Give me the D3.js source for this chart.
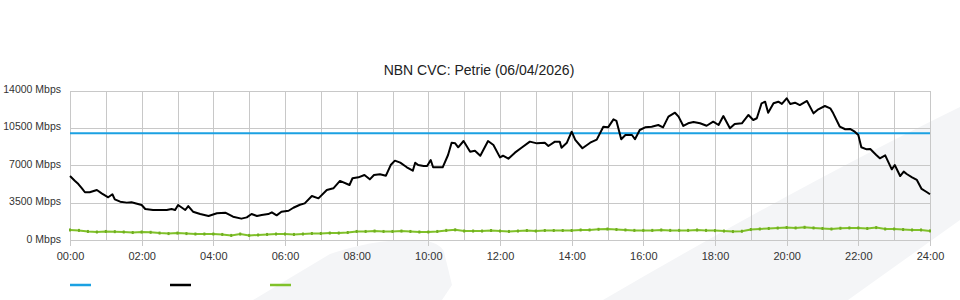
<!DOCTYPE html>
<html>
<head>
<meta charset="utf-8">
<script src="https://cdn.jsdelivr.net/npm/d3@7"></script>
<style>
  body { margin: 0; background: #fff; }
  svg { display: block; font-family: "Liberation Sans", Arial, sans-serif; }
  .grid line { stroke: #c8c8c8; stroke-width: 1; shape-rendering: crispEdges; }
  .grid .domain { display: none; }
  .axis text { fill: #333; font-size: 11px; }
</style>
</head>
<body>
<svg width="960" height="300"></svg>
<script>
var title = "NBN CVC: Petrie (06/04/2026)";

// y axis ticks (Mbps) and x axis labels (every 2 hours)
var yTicks = [0, 3500, 7000, 10500, 14000];
var xLabels = ["00:00", "02:00", "04:00", "06:00", "08:00", "10:00", "12:00",
               "14:00", "16:00", "18:00", "20:00", "22:00", "24:00"];

// CVC capacity (blue)
var capTimes = [0, 1440];
var capValues = [10000, 10000];

// traffic (black), minutes past midnight
var usageTimes = [0, 8, 14, 20, 25, 33, 45, 53, 64, 71, 75, 84, 95, 103, 120, 126, 139, 151, 162, 170,
  176, 181, 193, 198, 206, 218, 232, 246, 260, 273, 287, 296, 304, 313, 321, 332, 338, 346, 354, 366,
  374, 385, 393, 405, 416, 430, 441, 452, 468, 473, 483, 493, 502, 509, 519, 529, 537, 544, 553, 564,
  574, 578, 583, 592, 598, 604, 608, 624, 633, 639, 645, 650, 659, 670, 678, 687, 700, 709, 720, 725,
  734, 745, 756, 770, 782, 795, 801, 812, 820, 823, 832, 840, 846, 858, 871, 882, 893, 901, 910, 915,
  923, 930, 941, 946, 954, 963, 974, 985, 993, 1002, 1013, 1019, 1027, 1035, 1044, 1055, 1066, 1077, 1086, 1094,
  1105, 1113, 1125, 1136, 1144, 1150, 1158, 1164, 1169, 1178, 1186, 1192, 1200, 1206, 1214, 1222, 1234, 1245, 1253, 1264,
  1273, 1278, 1289, 1298, 1306, 1314, 1320, 1325, 1334, 1340, 1350, 1356, 1365, 1376, 1381, 1390, 1396, 1401, 1410, 1418,
  1426, 1435, 1440];
var usageValues = [5990, 5550, 5240, 4840, 4470, 4470, 4680, 4370, 4000, 4280, 3810, 3590, 3500, 3530, 3280, 2900, 2810, 2810, 2810, 2900,
  2810, 3280, 2810, 3180, 2650, 2430, 2250, 2500, 2560, 2180, 2000, 2120, 2430, 2250, 2340, 2430, 2590, 2310, 2650, 2740,
  3020, 3300, 3430, 4120, 3900, 4680, 4840, 5530, 5150, 5780, 5870, 6090, 5680, 6090, 6150, 6020, 7020, 7430, 7240, 6810,
  6490, 7240, 7020, 6930, 6930, 7490, 6810, 6810, 7960, 9110, 9050, 8680, 9270, 8270, 8360, 7890, 9270, 8900, 7740, 7890,
  7610, 8180, 8640, 9210, 9050, 9110, 8800, 9210, 9210, 8640, 9110, 10140, 9370, 8590, 9110, 9400, 10610, 10550, 11300, 11150,
  9430, 9830, 9830, 9430, 10300, 10550, 10610, 10770, 10550, 11550, 11920, 11550, 10680, 10930, 11050, 10930, 10700, 11080, 10770, 11610,
  10460, 10860, 10930, 11710, 11240, 11400, 12800, 12950, 11920, 12800, 12950, 12740, 13270, 12740, 12860, 12640, 13020, 11860, 12240, 12550,
  12330, 11860, 10610, 10370, 10400, 10140, 9830, 8680, 8490, 8520, 7960, 7650, 7930, 6620, 7020, 5990, 6400, 6180, 5870, 5620,
  4780, 4470, 4280];

// green series, every 15 minutes
var lowValues = [940, 900, 800, 750, 800, 780, 750, 700, 750, 720, 650, 600, 650, 600, 560, 560,
  560, 520, 430, 560, 430, 470, 520, 560, 560, 520, 560, 610, 610, 650, 650, 700,
  800, 800, 840, 800, 800, 840, 800, 750, 750, 800, 900, 950, 840, 840, 840, 890,
  840, 800, 840, 890, 840, 890, 890, 890, 890, 940, 940, 1000, 1030, 980, 940, 900,
  900, 900, 940, 900, 900, 900, 940, 900, 880, 840, 790, 820, 980, 1030, 1080, 1120,
  1170, 1130, 1190, 1130, 1080, 1030, 1100, 1130, 1130, 1080, 1160, 1030, 1030, 980, 940, 940,
  850];

var svg = d3.select("svg"),
    margin = {top: 90.5, right: 30, bottom: 60, left: 70},
    width = +svg.attr("width") - margin.left - margin.right,
    height = +svg.attr("height") - margin.top - margin.bottom;

var x = d3.scaleLinear().domain([0, 1440]).range([margin.left, margin.left + width]),
    y = d3.scaleLinear().domain([0, 14000]).range([margin.top + height, margin.top]);

// faint background watermark
var wm = svg.append("g").attr("fill", "#f4f5f7");
wm.append("path").attr("d", "M253,300 L330,254 Q378,238 420,240 Q440,242 444,252 L452,285 L442,300 Z");
wm.append("path").attr("d", "M603,300 Q800,185 960,107 L960,220 L848,300 Z");

// title
svg.append("text")
    .attr("x", 479)
    .attr("y", 75)
    .attr("text-anchor", "middle")
    .style("font-size", "14px")
    .style("fill", "#222")
    .text(title);

// vertical hourly grid
svg.append("g")
    .attr("class", "grid")
    .attr("transform", "translate(0," + (margin.top + height) + ")")
    .call(d3.axisBottom(x).tickValues(d3.range(0, 1441, 60)).tickSize(-height).tickFormat(""));

// x labels every two hours
svg.append("g")
    .attr("class", "grid axis")
    .attr("transform", "translate(0," + (margin.top + height) + ")")
    .call(d3.axisBottom(x)
      .tickValues(xLabels.map(function(d, i) { return i * 120; }))
      .tickSize(6).tickPadding(6)
      .tickFormat(function(d, i) { return xLabels[i]; }));

// y axis with horizontal grid
var yAxis = svg.append("g")
    .attr("class", "grid axis")
    .attr("transform", "translate(" + margin.left + ",0)")
    .call(d3.axisLeft(y).tickValues(yTicks).tickSize(-width).tickPadding(9)
      .tickFormat(function(d) { return d + " Mbps"; }));
yAxis.selectAll("text").attr("dy", "0.2em").style("font-size", "10.5px");

var line = d3.line()
    .x(function(d) { return x(d[0]); })
    .y(function(d) { return y(d[1]); });

// green series
var lowData = lowValues.map(function(v, i) { return [i * 15, v]; });
svg.append("path")
    .datum(lowData)
    .attr("fill", "none")
    .attr("stroke", "#80c12a")
    .attr("stroke-width", 2)
    .attr("d", line);
svg.selectAll(".lowpt")
    .data(lowData)
    .enter().append("rect")
      .attr("class", "lowpt")
      .attr("x", function(d) { return x(d[0]) - 1; })
      .attr("y", function(d) { return y(d[1]) - 1.5; })
      .attr("width", 2)
      .attr("height", 3)
      .attr("fill", "#6fae1e");

// capacity
svg.append("path")
    .datum(capTimes.map(function(t, i) { return [t, capValues[i]]; }))
    .attr("fill", "none")
    .attr("stroke", "#1ba1e2")
    .attr("stroke-width", 2)
    .attr("d", line);

// traffic
svg.append("path")
    .datum(usageTimes.map(function(t, i) { return [t, usageValues[i]]; }))
    .attr("fill", "none")
    .attr("stroke", "#000")
    .attr("stroke-width", 2)
    .attr("stroke-linejoin", "round")
    .attr("d", line);

// legend swatches (no labels)
var legendColors = ["#1ba1e2", "#000", "#80c12a"];
svg.selectAll(".legend")
    .data(legendColors)
    .enter().append("line")
      .attr("class", "legend")
      .attr("x1", function(d, i) { return 70 + i * 100; })
      .attr("x2", function(d, i) { return 91 + i * 100; })
      .attr("y1", 285)
      .attr("y2", 285)
      .attr("stroke", function(d) { return d; })
      .attr("stroke-width", 2.5);
</script>
</body>
</html>
